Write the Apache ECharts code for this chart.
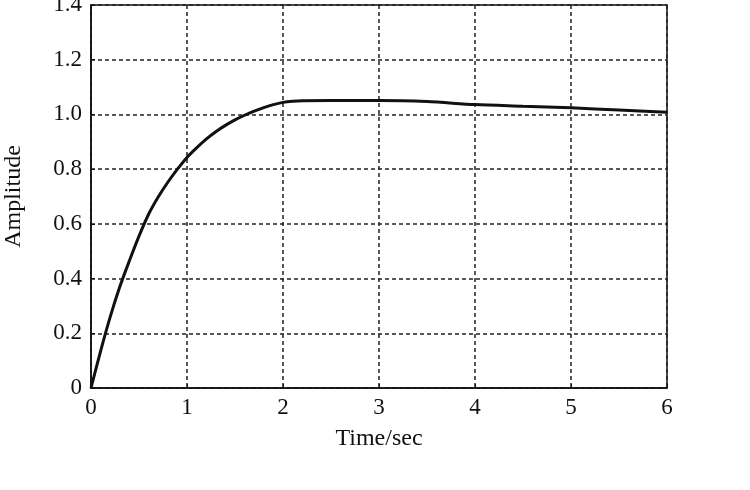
<!DOCTYPE html>
<html>
<head>
<meta charset="utf-8">
<script src="https://cdn.jsdelivr.net/npm/echarts@6/dist/echarts.min.js"></script>
<style>html,body{margin:0;padding:0;background:#fff;}#c{width:750px;height:490px;}</style>
</head>
<body>
<div id="c"></div>
<script>
var timeSec = [0, 0.1, 0.2, 0.3, 0.4, 0.5, 0.6, 0.7, 0.8, 0.9, 1.0, 1.1, 1.2, 1.3, 1.4, 1.5, 1.6, 1.7, 1.8, 1.9, 2.0, 2.1, 2.2, 2.5, 3.0, 3.5, 4.0, 4.5, 5.0, 5.5, 6.0];
var amplitude = [0, 0.135, 0.26, 0.37, 0.465, 0.555, 0.635, 0.698, 0.752, 0.80, 0.843, 0.878, 0.91, 0.937, 0.96, 0.98, 0.997, 1.012, 1.025, 1.036, 1.044, 1.048, 1.05, 1.051, 1.051, 1.047, 1.036, 1.03, 1.024, 1.016, 1.008];
var xLabel = 'Time/sec';
var yLabel = 'Amplitude';

var pts = timeSec.map(function (t, i) { return [t, amplitude[i]]; });
var font = '"Liberation Serif", "Times New Roman", serif';
var chart = echarts.init(document.getElementById('c'), null, {renderer: 'canvas'});
chart.setOption({
  animation: false,
  backgroundColor: '#fff',
  grid: {left: 91, right: 83, top: 5, bottom: 102, outerBoundsMode: 'none', containLabel: false,
    show: true, borderColor: '#111', borderWidth: 1.5, backgroundColor: 'transparent'},
  xAxis: {
    type: 'value', min: 0, max: 6, interval: 1,
    name: xLabel, nameLocation: 'middle', nameGap: 39,
    nameTextStyle: {fontFamily: font, fontSize: 24, color: '#111'},
    axisLine: {show: true, lineStyle: {color: '#111', width: 1.5}},
    axisTick: {show: true, inside: true, length: 4, lineStyle: {color: '#111'}},
    axisLabel: {fontFamily: font, fontSize: 23, color: '#111', margin: 8},
    splitLine: {show: true, lineStyle: {color: '#222', width: 1.5, type: [4, 3]}}
  },
  yAxis: {
    type: 'value', min: 0, max: 1.4, interval: 0.2,
    name: yLabel, nameLocation: 'middle', nameGap: 65,
    nameTextStyle: {fontFamily: font, fontSize: 24, color: '#111'},
    axisLine: {show: true, lineStyle: {color: '#111', width: 1.5}},
    axisTick: {show: true, inside: true, length: 4, lineStyle: {color: '#111'}},
    axisLabel: {fontFamily: font, fontSize: 23, color: '#111', margin: 9,
      formatter: function (v) { return v === 0 ? '0' : v.toFixed(1); }},
    splitLine: {show: true, lineStyle: {color: '#222', width: 1.5, type: [4, 3]}}
  },
  series: [{
    type: 'line', data: pts, smooth: 0.3, showSymbol: false,
    lineStyle: {color: '#111', width: 3}
  }]
});
</script>
</body>
</html>
